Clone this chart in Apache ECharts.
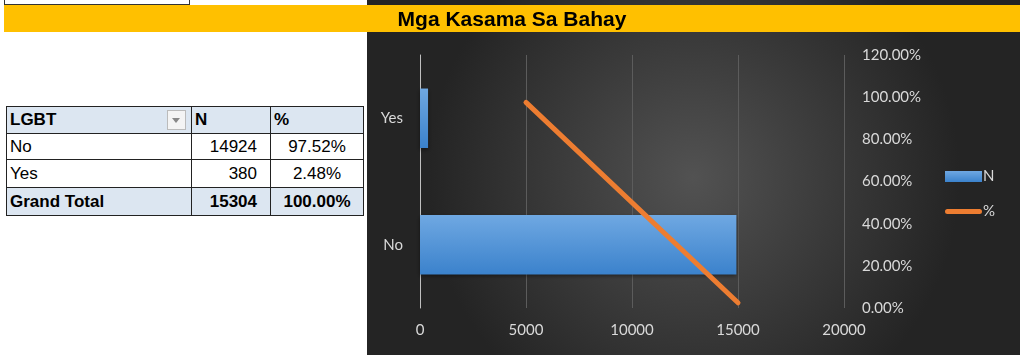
<!DOCTYPE html>
<html>
<head>
<meta charset="utf-8">
<script src="https://cdn.jsdelivr.net/npm/echarts@6/dist/echarts.min.js"></script>
<style>
  html, body { margin:0; padding:0; background:#ffffff; width:1024px; height:359px; overflow:hidden; }
  #chart { position:absolute; left:367px; top:0px; width:653px; height:355px; }
  #band { position:absolute; left:4px; top:5px; width:1016px; height:27px; background:#FFC000; z-index:5; }
  #title { position:absolute; left:0; width:1024px; top:5px; height:27px; line-height:28px; text-align:center; z-index:6;
           font-family:"Liberation Sans Narrow","Liberation Sans",Arial,sans-serif; font-weight:bold; font-size:21px; color:#000; }
  #cellbox { position:absolute; left:4px; top:-2px; width:184px; height:5px; border:1px solid #333; background:#fff; }
  table { position:absolute; left:6px; top:106px; border-collapse:collapse; font-family:"Liberation Sans",Arial,sans-serif; font-size:17px; color:#000; }
  td { border:1px solid #222; padding:0 4px; box-sizing:border-box; }
  tr.hd td { height:27px; }
  tr.r0 td { height:26px; }
  tr.r1 td { height:28px; }
  tr.tot td { height:28px; }
  tr.hd td, tr.tot td { background:#DCE6F1; font-weight:bold; }
  td.c1 { width:185px; text-align:left; position:relative; padding-left:3px; }
  td.c2 { width:79px; text-align:right; padding-right:13px; }
  td.c3 { width:93px; text-align:center; }
  tr.hd td.c2, tr.hd td.c3 { text-align:left; padding-left:3px; }
  .dd { position:absolute; right:5px; top:3px; width:19px; height:20px; border:1px solid #bbb; background:#f4f4f4; box-sizing:border-box; }
  .dd:after { content:""; position:absolute; left:4px; top:7px; border-left:4px solid transparent; border-right:4px solid transparent; border-top:5px solid #888; }
</style>
</head>
<body>
<div id="cellbox"></div>
<div id="chart"></div>
<div id="band"></div>
<div id="title">Mga Kasama Sa Bahay</div>
<table id="tbl"></table>
<script>
// ---- data ----
const categories = ['No', 'Yes'];
const countN = [14924, 380];
const percent = [0.9752, 0.0248];
const tableHeader = ['LGBT', 'N', '%'];
const totalLabel = 'Grand Total';
const totalN = 15304;
const totalPercent = 1.0;
const xTicks = [0, 5000, 10000, 15000, 20000];
const pctTicks = [0, 0.2, 0.4, 0.6, 0.8, 1.0, 1.2];

// ---- table ----
const fmtPct = v => (v * 100).toFixed(2) + '%';
let html = '<tr class="hd"><td class="c1">' + tableHeader[0] + '<span class="dd"></span></td><td class="c2">' + tableHeader[1] + '</td><td class="c3">' + tableHeader[2] + '</td></tr>';
for (let i = 0; i < categories.length; i++) {
  html += '<tr class="r' + i + '"><td class="c1">' + categories[i] + '</td><td class="c2">' + countN[i] + '</td><td class="c3">' + fmtPct(percent[i]) + '</td></tr>';
}
html += '<tr class="tot"><td class="c1">' + totalLabel + '</td><td class="c2">' + totalN + '</td><td class="c3">' + fmtPct(totalPercent) + '</td></tr>';
document.getElementById('tbl').innerHTML = html;

// ---- chart ----
const chart = echarts.init(document.getElementById('chart'), null, { renderer: 'canvas' });
const labelColor = '#d9d9d9';
const font = 'Lato, "Open Sans", sans-serif';
chart.setOption({
  animation: false,
  backgroundColor: {
    type: 'radial', x: 0.5, y: 0.5, r: 0.75,
    colorStops: [{ offset: 0, color: '#525252' }, { offset: 1, color: '#242424' }]
  },
  grid: { left: 53, right: 176, top: 55, bottom: 47 },
  legend: {
    orient: 'vertical', left: 573, top: 164, itemWidth: 37, itemHeight: 11, itemGap: 20,
    textStyle: { color: labelColor, fontSize: 15, fontFamily: font, padding: [0, 0, 0, -4] },
    data: [
      { name: 'N', icon: 'rect' },
      { name: '%', icon: 'path://M0,0 L0.01,0 M2.5,3 L34.5,3 A2.5,2.5 0 0 1 34.5,8 L2.5,8 A2.5,2.5 0 0 1 2.5,3 Z M0,11 L0.01,11',
        itemStyle: { color: '#ED7D31' } }
    ]
  },
  xAxis: [
    {
      type: 'value', min: xTicks[0], max: xTicks[xTicks.length - 1], interval: 5000,
      axisLine: { show: false }, axisTick: { show: false },
      axisLabel: { color: labelColor, fontSize: 15, fontFamily: font, margin: 15, formatter: v => String(v) },
      splitLine: { show: true, lineStyle: { color: '#5c5c5c', width: 1 } }
    },
    {
      type: 'category', data: categories, position: 'top', boundaryGap: true, show: false
    }
  ],
  yAxis: [
    {
      type: 'category', data: categories,
      axisLine: { show: true, lineStyle: { color: '#bfbfbf', width: 1 } },
      axisTick: { show: false },
      axisLabel: { color: labelColor, fontSize: 15, fontFamily: font, margin: 17 }
    },
    {
      type: 'value', position: 'right', min: pctTicks[0], max: pctTicks[pctTicks.length - 1], interval: 0.2,
      axisLine: { show: false }, axisTick: { show: false }, splitLine: { show: false },
      axisLabel: { color: labelColor, fontSize: 15, fontFamily: font, margin: 18,
                   formatter: v => (v * 100).toFixed(2) + '%' }
    }
  ],
  series: [
    {
      name: 'N', type: 'bar', xAxisIndex: 0, yAxisIndex: 0, data: countN, barWidth: '47%',
      itemStyle: {
        color: { type: 'linear', x: 0, y: 0, x2: 0, y2: 1,
                 colorStops: [{ offset: 0, color: '#6fa8e2' }, { offset: 1, color: '#3b82cc' }] },
        shadowColor: 'rgba(0,0,0,0.45)', shadowBlur: 4, shadowOffsetY: 2
      }
    },
    {
      name: '%', type: 'line', xAxisIndex: 1, yAxisIndex: 1, data: percent,
      symbol: 'none', showSymbol: false,
      lineStyle: { color: '#ED7D31', width: 5, cap: 'round' },
      itemStyle: { color: '#ED7D31' }
    }
  ]
});
</script>
</body>
</html>
